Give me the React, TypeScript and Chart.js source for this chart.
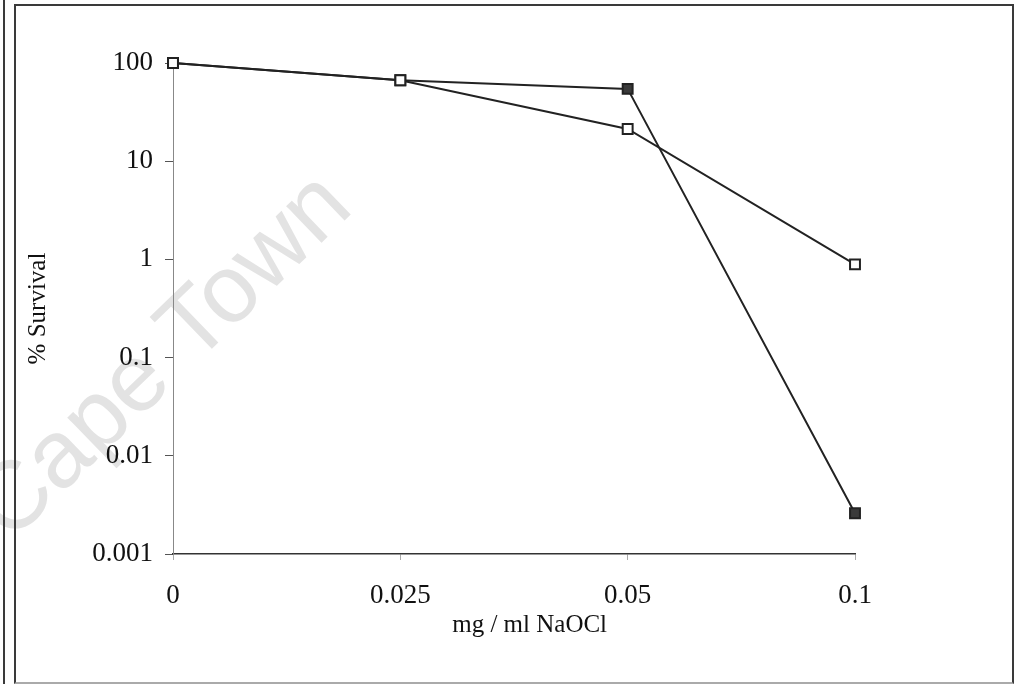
import React, { useEffect, useRef } from 'react';
import { Chart, registerables } from 'chart.js';

Chart.register(...registerables);

const categories = ['0', '0.025', '0.05', '0.1'];
const openSeries = [100, 66.8, 21.3, 0.89];
const filledSeries = [100, 66.8, 54.5, 0.0026];
const yTickValues = [100, 10, 1, 0.1, 0.01, 0.001];
const yTickLabels = ['100', '10', '1', '0.1', '0.01', '0.001'];
const xTitle = '     mg / ml NaOCl';
const yTitle = '% Survival';
const watermarkText = 'Cape Town';

const serif = '"Liberation Serif", "Times New Roman", serif';

const watermarkPlugin = {
  id: 'watermark',
  beforeDraw(chart: any) {
    const ctx = chart.ctx;
    ctx.save();
    ctx.translate(164, 358);
    ctx.rotate((-44 * Math.PI) / 180);
    ctx.font = '96px "Liberation Sans", Arial, sans-serif';
    ctx.fillStyle = '#e3e3e3';
    ctx.textAlign = 'center';
    ctx.textBaseline = 'middle';
    ctx.fillText(watermarkText, 0, 0);
    ctx.restore();
  },
};

export default function App() {
  const canvasRef = useRef<HTMLCanvasElement | null>(null);

  useEffect(() => {
    document.body.style.margin = '0';
    const canvas = canvasRef.current;
    if (!canvas) return;
    const common = {
      borderColor: '#222',
      borderWidth: 2,
      pointStyle: 'rect',
      pointRadius: 7,
      pointBorderColor: '#222',
      pointBorderWidth: 2,
      fill: false,
      tension: 0,
      clip: false,
    };
    const chart = new Chart(canvas, {
      type: 'line',
      data: {
        labels: categories,
        datasets: [
          { ...common, data: openSeries, pointBackgroundColor: '#ffffff' },
          { ...common, data: filledSeries, pointBackgroundColor: '#3a3a3a' },
        ],
      },
      options: {
        responsive: false,
        animation: false,
        layout: { padding: { left: 0, top: 63, right: 164, bottom: 0 } },
        plugins: {
          legend: { display: false },
          tooltip: { enabled: false },
        },
        scales: {
          x: {
            type: 'category',
            offset: false,
            afterFit: (scale: any) => {
              scale.height = 130;
            },
            grid: { drawOnChartArea: false, drawTicks: true, tickLength: 6, color: '#aaa' },
            border: { display: true, color: '#333', width: 1.5 },
            ticks: {
              font: { family: serif, size: 27 },
              color: '#111',
              padding: 20,
              maxRotation: 0,
              autoSkip: false,
            },
            title: {
              display: true,
              text: xTitle,
              font: { family: serif, size: 25 },
              color: '#111',
              padding: { top: 0, bottom: 44 },
            },
          },
          y: {
            type: 'logarithmic',
            min: 0.001,
            max: 100,
            afterFit: (scale: any) => {
              scale.width = 173;
            },
            afterBuildTicks: (scale: any) => {
              scale.ticks = yTickValues.map((v) => ({ value: v }));
            },
            grid: { drawOnChartArea: false, drawTicks: true, tickLength: 8, color: '#555' },
            border: { display: true, color: '#888', width: 1, dash: [2, 3] },
            ticks: {
              font: { family: serif, size: 27 },
              color: '#111',
              padding: 12,
              autoSkip: false,
              callback: (value: any) => {
                const idx = yTickValues.findIndex((t) => Math.abs(t - Number(value)) / t < 1e-6);
                return idx >= 0 ? yTickLabels[idx] : '';
              },
            },
            title: {
              display: true,
              text: yTitle,
              font: { family: serif, size: 25 },
              color: '#111',
              padding: { top: 23, bottom: 0 },
            },
          },
        },
      },
      plugins: [watermarkPlugin],
    } as any);
    return () => chart.destroy();
  }, []);

  return (
    <div style={{ position: 'relative', width: 1019, height: 684, background: '#fff', overflow: 'hidden' }}>
      <canvas ref={canvasRef} width={1019} height={684} style={{ position: 'absolute', left: 0, top: 0, width: 1019, height: 684 }} />
      <div style={{ position: 'absolute', left: 3, top: 0, width: 2, height: 684, background: '#3a3a3a', pointerEvents: 'none' }} />
      <div
        style={{
          position: 'absolute',
          left: 14,
          top: 4,
          width: 1000,
          height: 680,
          boxSizing: 'border-box',
          borderLeft: '2px solid #3a3a3a',
          borderTop: '2px solid #3a3a3a',
          borderRight: '2px solid #3a3a3a',
          borderBottom: '2px solid #aaa',
          pointerEvents: 'none',
        }}
      />
    </div>
  );
}
